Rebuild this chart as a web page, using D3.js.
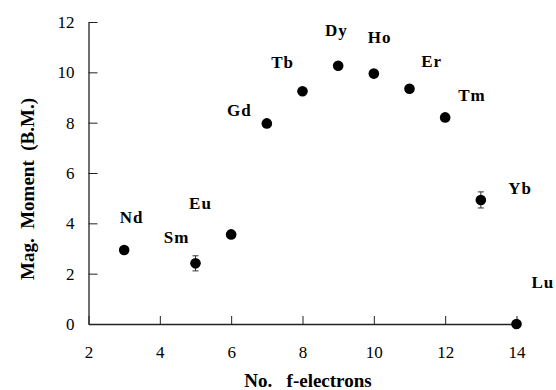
<!DOCTYPE html>
<html><head><meta charset="utf-8">
<script src="https://cdn.jsdelivr.net/npm/d3@7"></script>
<style>
html,body{margin:0;padding:0;background:#fff;}
@font-face{font-family:"ChartSerif";src:local("Liberation Serif Bold"),local("LiberationSerif-Bold"),local("Tinos Bold");font-weight:bold;}
@font-face{font-family:"ChartSerif";src:local("Liberation Serif"),local("LiberationSerif"),local("Tinos");font-weight:normal;}
</style></head>
<body><svg id="c" width="556" height="390"></svg>
<script>
const elements = ["Nd","Sm","Eu","Gd","Tb","Dy","Ho","Er","Tm","Yb","Lu"];
const fElectrons = [3,5,6,7,8,9,10,11,12,13,14];
const moments = [2.94,2.41,3.56,7.97,9.25,10.26,9.95,9.35,8.21,4.93,0];
const errors = [0,0.3,0.1,0,0,0,0,0,0,0.32,0];
const labelX = [3.21,4.47,5.14,6.23,7.44,8.95,10.16,11.62,12.75,14.10,14.74];
const labelY = [4.01,3.22,4.57,8.26,10.18,11.44,11.18,10.21,8.86,5.16,1.43];
const xTicks = [2,4,6,8,10,12,14];
const yTicks = [0,2,4,6,8,10,12];

const FONT = '"Liberation Serif", ChartSerif, Tinos, "Times New Roman"';
const svg = d3.select("#c");
const x = d3.scaleLinear().domain([2,14]).range([88.5,516.5]);
const y = d3.scaleLinear().domain([0,12]).range([324,22]);

function serif(t, size, bold){
  t.style("font-family",FONT).style("font-size",size+"px");
  if(bold) t.style("font-weight","bold");
  return t;
}

const gx = svg.append("g").attr("transform","translate(0,324)")
  .call(d3.axisBottom(x).tickValues(xTicks).tickSizeInner(-8).tickSizeOuter(0).tickPadding(22));
const gy = svg.append("g").attr("transform","translate(88.5,0)")
  .call(d3.axisLeft(y).tickValues(yTicks).tickSizeInner(-9).tickSizeOuter(0).tickPadding(14));
[gx,gy].forEach(g=>{
  g.attr("font-family",null).attr("font-size",null);
  g.select(".domain").attr("stroke","#222").attr("stroke-width",1.3);
  g.selectAll(".tick line").attr("stroke","#222").attr("stroke-width",1);
  serif(g.selectAll(".tick text"),17,false).attr("fill","#000");
});
gy.selectAll(".tick line").attr("x2",9);
gx.selectAll(".tick line").attr("y2",-8);

const eb = svg.append("g");
fElectrons.forEach((fx,i)=>{
  if(errors[i]>0){
    const cx = x(fx), t = y(moments[i]+errors[i]), b = y(moments[i]-errors[i]);
    eb.append("line").attr("x1",cx).attr("x2",cx).attr("y1",t).attr("y2",b).attr("stroke","#333").attr("stroke-width",1);
    [t,b].forEach(v=>eb.append("line").attr("x1",cx-3).attr("x2",cx+3).attr("y1",v).attr("y2",v).attr("stroke","#333").attr("stroke-width",1));
  }
});

svg.append("g").selectAll("circle").data(fElectrons).join("circle")
  .attr("cx",d=>x(d)).attr("cy",(d,i)=>y(moments[i])).attr("r",5.3).attr("fill","#000");

serif(svg.append("g").selectAll("text").data(elements).join("text")
  .attr("x",(d,i)=>x(labelX[i])).attr("y",(d,i)=>y(labelY[i]))
  .attr("text-anchor","middle").text(d=>d), 17, true).style("letter-spacing","1px");

serif(svg.append("text").attr("x",308).attr("y",387).attr("text-anchor","middle")
  .text("No.\u00a0\u00a0 f-electrons"), 19, true);
serif(svg.append("text").attr("transform","translate(34,189) rotate(-90)").attr("text-anchor","middle")
  .text("Mag.\u00a0 Moment\u00a0 (B.M.)"), 19, true);

if(document.fonts){
  document.fonts.load('bold 17px "Liberation Serif"');
  document.fonts.load('17px "Liberation Serif"');
  document.fonts.ready.then(()=>{ svg.selectAll("text").style("font-family",FONT); });
}
</script></body></html>
